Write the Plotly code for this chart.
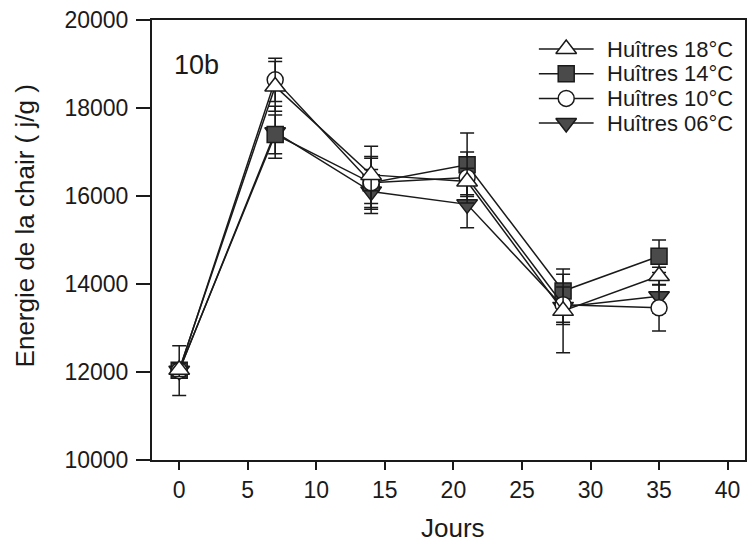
import plotly.graph_objects as go

# ---- data ----
days = [0, 7, 14, 21, 28, 35]
series_names = ["Huîtres 18°C", "Huîtres 14°C", "Huîtres 10°C", "Huîtres 06°C"]
energy_18 = [12050, 18490, 16480, 16330, 13390, 14180]
energy_14 = [12040, 17400, 16300, 16710, 13840, 14630]
energy_10 = [12030, 18640, 16300, 16420, 13530, 13460]
energy_06 = [12030, 17450, 16100, 15810, 13480, 13720]
err_18 = [150, 565, 650, 300, 950, 200]
err_14 = [150, 440, 600, 720, 380, 370]
err_10 = [565, 490, 560, 580, 400, 530]
err_06 = [150, 590, 500, 530, 400, 380]
x_tick_vals = [0, 5, 10, 15, 20, 25, 30, 35, 40]
y_tick_vals = [10000, 12000, 14000, 16000, 18000, 20000]
panel_label = "10b"
x_title = "Jours"
y_title = "Energie de la chair ( j/g )"

FONT = "Liberation Sans, Arial, sans-serif"
INK = "#1a1a1a"
DARK = "#4a4a4a"

styles = {
    "Huîtres 18°C": dict(symbol="triangle-up", color="white", size=18),
    "Huîtres 14°C": dict(symbol="square", color=DARK, size=16),
    "Huîtres 10°C": dict(symbol="circle", color="white", size=16),
    "Huîtres 06°C": dict(symbol="triangle-down", color=DARK, size=18),
}
values = {
    "Huîtres 18°C": (energy_18, err_18),
    "Huîtres 14°C": (energy_14, err_14),
    "Huîtres 10°C": (energy_10, err_10),
    "Huîtres 06°C": (energy_06, err_06),
}
draw_order = ["Huîtres 06°C", "Huîtres 14°C", "Huîtres 10°C", "Huîtres 18°C"]

fig = go.Figure()
for name in draw_order:
    y, e = values[name]
    st = styles[name]
    fig.add_trace(go.Scatter(
        x=days, y=y, name=name, mode="lines+markers",
        line=dict(color=INK, width=1.5),
        marker=dict(symbol=st["symbol"], size=st["size"], color=st["color"],
                    line=dict(color=INK, width=1.5)),
        error_y=dict(type="data", array=e, visible=True, color=INK,
                     thickness=1.5, width=7),
        showlegend=False,
    ))

# ---- custom legend (row index on an overlay axis) ----
for i, name in enumerate(series_names):
    st = styles[name]
    fig.add_trace(go.Scatter(
        x=[0, 0.5, 1], y=[i, i, i], xaxis="x2", yaxis="y2",
        mode="lines", line=dict(color=INK, width=1.5),
        showlegend=False, hoverinfo="skip"))
    fig.add_trace(go.Scatter(
        x=[0.5], y=[i], xaxis="x2", yaxis="y2", mode="markers",
        marker=dict(symbol=st["symbol"], size=st["size"], color=st["color"],
                    line=dict(color=INK, width=1.5)),
        showlegend=False, hoverinfo="skip"))
    fig.add_annotation(text=name, xref="paper", yref="y2", x=0.766, y=i,
                       xanchor="left", yanchor="middle", showarrow=False,
                       borderpad=0,
                       font=dict(family=FONT, size=22, color=INK))

fig.add_annotation(text=panel_label, xref="paper", yref="paper", x=0.033, y=0.898,
                   xanchor="left", yanchor="middle", showarrow=False,
                   font=dict(family=FONT, size=27, color=INK))
fig.add_annotation(text=y_title, xref="paper", yref="paper", x=-0.215, y=0.532,
                   xanchor="center", yanchor="middle", textangle=-90, showarrow=False,
                   font=dict(family=FONT, size=26, color=INK))
fig.add_annotation(text=x_title, xref="paper", yref="paper", x=0.5076, y=-0.1545,
                   xanchor="center", yanchor="middle", showarrow=False,
                   font=dict(family=FONT, size=26, color=INK))

fig.update_layout(
    width=749, height=547,
    margin=dict(l=152, r=2, t=20, b=87),
    paper_bgcolor="white", plot_bgcolor="white",
    font=dict(family=FONT, size=22, color=INK),
    xaxis=dict(range=[-1.985, 41.27], tickvals=x_tick_vals, ticks="outside",
               ticklen=8, tickwidth=2, tickcolor=INK, showline=True, linewidth=2,
               linecolor=INK, mirror=True, showgrid=False, zeroline=False,
               tickfont=dict(size=23, family=FONT, color=INK)),
    yaxis=dict(range=[10000, 20000], tickvals=y_tick_vals, tickformat="d",
               ticks="outside", ticklen=14, tickwidth=2, tickcolor=INK,
               showline=True, linewidth=2, linecolor=INK, mirror=True,
               showgrid=False, zeroline=False, ticklabelstandoff=3,
               tickfont=dict(size=23, family=FONT, color=INK)),
    xaxis2=dict(domain=[0.652, 0.745], range=[0, 1], visible=False,
                anchor="y2", fixedrange=True),
    yaxis2=dict(domain=[0.7377, 0.962], range=[3.5, -0.5], visible=False,
                anchor="x2", fixedrange=True),
)

fig.write_html("out.html")
